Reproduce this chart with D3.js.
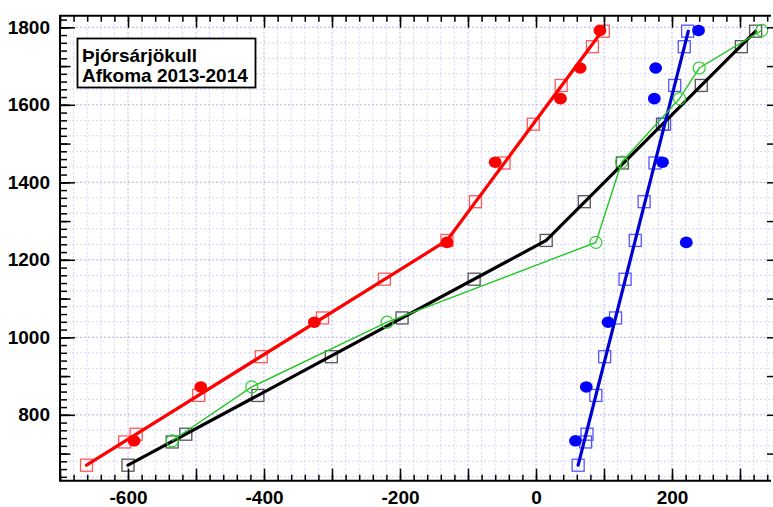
<!DOCTYPE html>
<html>
<head>
<meta charset="utf-8">
<script src="https://cdn.jsdelivr.net/npm/d3@7"></script>
<style>
  html, body { margin: 0; padding: 0; background: #fff; }
  svg { display: block; }
  .tick text { font-family: "Liberation Sans", Arial, sans-serif; font-weight: bold; font-size: 19px; fill: #000; }
</style>
</head>
<body>
<svg id="chart" width="773" height="507"></svg>
<script>
// Elevation bands (m a.s.l.) for the modelled balance profiles
const bandElev = [670, 730, 750, 850, 950, 1050, 1150, 1250, 1350, 1450, 1550, 1650, 1750, 1790];
// Modelled band values (mm w.e.)
const summerBand = [-661, -605, -588, -496, -404, -314, -223, -131, -89, -47, -4, 37, 83, 99];
const netBand    = [-600, -535, -515, -409, -301, -197, -91, 15, 71, 127, 186, 243, 302, 323];
const winterBand = [62, 73, 75, 88, 101, 117, 131, 146, 159, 175, 189, 204, 218, 223];

// Piecewise-linear profile fits: [balance, elevation]
const summerFit = [[-661, 670], [-131, 1250], [97, 1790]];
const netFit    = [[-600, 670], [15, 1250], [323, 1790]];
const winterFit = [[62, 670], [224, 1790]];

// Stake measurements
const siteElev     = [733, 872, 1039, 1245, 1452, 1616, 1695, 1792];
const summerPoints = [-591, -493, -326, -131, -60, 36, 65, 94];
const winterPoints = [58, 74, 106, 221, 186, 174, 176, 239];
const netPoints    = [-535, -418, -219, 88, 126, 211, 240, 332];

// Axis settings
const xDomain = [-700, 350];
const yDomain = [630, 1830];
const xLabels = [-600, -400, -200, 0, 200];
const yLabels = [800, 1000, 1200, 1400, 1600, 1800];

const titleLines = ["Þjórsárjökull", "Afkoma 2013-2014"];

const svg = d3.select("#chart");
const pLeft = 60, pRight = 774, pTop = 15.7, pBottom = 480.7;
const x = d3.scaleLinear().domain(xDomain).range([pLeft, pRight]);
const y = d3.scaleLinear().domain(yDomain).range([pBottom, pTop]);

// Grid
const grid = svg.append("g");
d3.range(-680, 350, 20).forEach(v => {
  const major = v % 100 === 0;
  grid.append("line")
    .attr("x1", x(v)).attr("x2", x(v)).attr("y1", pTop).attr("y2", pBottom)
    .attr("stroke", major ? "#b4b4f0" : "#d4d4fa")
    .attr("stroke-width", 1)
    .attr("stroke-dasharray", "2,2");
});
d3.range(640, 1830, 40).forEach(v => {
  const major = v % 200 === 0;
  grid.append("line")
    .attr("x1", pLeft).attr("x2", pRight).attr("y1", y(v)).attr("y2", y(v))
    .attr("stroke", major ? "#b4b4f0" : "#d4d4fa")
    .attr("stroke-width", 1)
    .attr("stroke-dasharray", "2,2");
});

// Band squares
function squares(vals, color) {
  svg.append("g").selectAll("rect").data(vals.map((v, i) => [v, bandElev[i]]))
    .join("rect")
    .attr("x", d => x(d[0]) - 6).attr("y", d => y(d[1]) - 6)
    .attr("width", 12).attr("height", 12)
    .attr("fill", "none").attr("stroke", color).attr("stroke-width", 1.3);
}
squares(summerBand, "#ff5a5a");
squares(netBand, "#555555");
squares(winterBand, "#5555ff");

// Fitted profiles
const line = d3.line().x(d => x(d[0])).y(d => y(d[1]));
function fit(pts, color) {
  svg.append("path").datum(pts).attr("d", line)
    .attr("fill", "none").attr("stroke", color).attr("stroke-width", 3.2)
    .attr("stroke-linejoin", "round").attr("stroke-linecap", "round");
}
fit(summerFit, "#ff0000");
fit(netFit, "#000000");
fit(winterFit, "#0000d0");

// Net measurements: thin line with open circles
const netData = netPoints.map((v, i) => [v, siteElev[i]]);
svg.append("path").datum(netData).attr("d", line)
  .attr("fill", "none").attr("stroke", "#22c822").attr("stroke-width", 1.4);
svg.append("g").selectAll("circle").data(netData).join("circle")
  .attr("cx", d => x(d[0])).attr("cy", d => y(d[1])).attr("r", 6)
  .attr("fill", "none").attr("stroke", "#33cc33").attr("stroke-width", 1.2);

// Summer and winter measurements: filled dots
function dots(vals, color) {
  svg.append("g").selectAll("ellipse").data(vals.map((v, i) => [v, siteElev[i]]))
    .join("ellipse")
    .attr("cx", d => x(d[0])).attr("cy", d => y(d[1]))
    .attr("rx", 6.4).attr("ry", 5.8)
    .attr("fill", color);
}
dots(summerPoints, "#ff0000");
dots(winterPoints, "#0000ff");

// Axes
function style(g) { g.select(".domain").remove(); g.selectAll(".tick line").attr("stroke", "#000").attr("stroke-width", 1.5); }

svg.append("g").attr("transform", `translate(0,${pBottom})`)
  .call(d3.axisBottom(x).tickValues(d3.range(-700, 351, 20)).tickSize(-6).tickFormat("")).call(style);
svg.append("g").attr("transform", `translate(0,${pBottom})`)
  .call(d3.axisBottom(x).tickValues(d3.range(-700, 351, 100)).tickSize(-12).tickFormat("")).call(style);
svg.append("g").attr("transform", `translate(0,${pBottom})`)
  .call(d3.axisBottom(x).tickValues(xLabels).tickSize(0).tickPadding(10).tickFormat(d => String(d))).call(style);

svg.append("g").attr("transform", `translate(0,${pTop})`)
  .call(d3.axisTop(x).tickValues(d3.range(-700, 351, 20)).tickSize(-6).tickFormat("")).call(style);
svg.append("g").attr("transform", `translate(0,${pTop})`)
  .call(d3.axisTop(x).tickValues(d3.range(-700, 351, 100)).tickSize(-12).tickFormat("")).call(style);

svg.append("g").attr("transform", `translate(${pLeft},0)`)
  .call(d3.axisLeft(y).tickValues(d3.range(640, 1830, 20)).tickSize(-7).tickFormat("")).call(style);
svg.append("g").attr("transform", `translate(${pLeft},0)`)
  .call(d3.axisLeft(y).tickValues(d3.range(700, 1830, 100)).tickSize(-10.5).tickFormat("")).call(style);
svg.append("g").attr("transform", `translate(${pLeft},0)`)
  .call(d3.axisLeft(y).tickValues(yLabels).tickSize(-15).tickPadding(10).tickFormat(d => String(d))).call(style);

svg.append("g").attr("transform", `translate(${pRight},0)`)
  .call(d3.axisRight(y).tickValues(d3.range(700, 1830, 100)).tickSize(-7).tickFormat("")).call(style);

// Frame (right edge falls outside the view)
const frame = svg.append("g").attr("stroke", "#000").attr("stroke-width", 2).attr("fill", "none");
frame.append("path").attr("d", `M${pRight - 3},${pTop}H${pLeft}V${pBottom}H${pRight - 3}`);

// Title box
const box = svg.append("g");
box.append("rect").attr("x", 77.5).attr("y", 38.5).attr("width", 178).attr("height", 49)
  .attr("fill", "#fff").attr("stroke", "#000").attr("stroke-width", 1.8);
box.selectAll("text").data(titleLines).join("text")
  .attr("x", 82).attr("y", (d, i) => 62 + i * 19.5)
  .attr("font-family", "Liberation Sans, Arial, sans-serif")
  .attr("font-weight", "bold").attr("font-size", 19)
  .text(d => d);
</script>
</body>
</html>
